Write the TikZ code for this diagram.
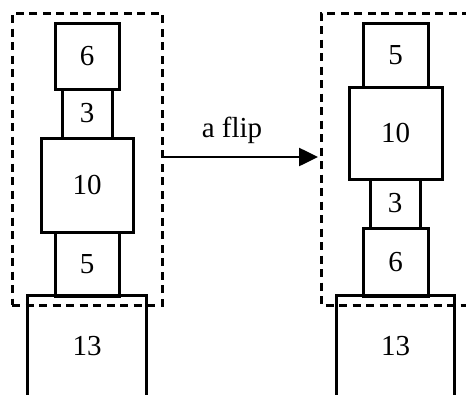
\documentclass[tikz,border=0pt]{standalone}
\usepackage{fontspec}
\setmainfont{Liberation Serif}
\usetikzlibrary{arrows.meta}
\begin{document}
\begin{tikzpicture}[x=1pt,y=-1pt,
  blk/.style={draw, line width=3pt, rectangle, inner sep=0pt, font=\fontsize{29}{33}\selectfont},
  frame/.style={draw, line width=3pt, dash pattern=on 8pt off 5.5pt},
  lbl/.style={font=\fontsize{29}{33}\selectfont, inner sep=0pt}]
\useasboundingbox (0,0) rectangle (466,394);
% left frame
\node[frame, rectangle, inner sep=0pt, minimum width=150pt, minimum height=292pt] (ld) at (87,159) {};
% right frame (open on the right)
\coordinate (rtr) at (470,13);
\coordinate (rtl) at (321,13);
\coordinate (rbl) at (321,305);
\coordinate (rbr) at (470,305);
\draw[frame] (rtr) -- (rtl) -- (rbl) -- (rbr);
\coordinate (rin) at (318,157);
% left stack
\node[blk, minimum width=64pt, minimum height=66pt] (l6) at (87,56) {6};
\node[blk, minimum width=50pt, minimum height=49pt] (l3) at (87,113.5) {3};
\node[blk, minimum width=92pt, minimum height=94pt] (l10) at (87,185) {10};
\node[blk, minimum width=64pt, minimum height=64pt] (l5) at (87,264) {5};
\node[lbl, minimum width=118pt, minimum height=100pt] (l13) at (87,346) {13};
\draw[line width=3pt] (l13.south west) -- (l13.north west) -- (l13.north east) -- (l13.south east);
% right stack
\node[blk, minimum width=65pt, minimum height=64pt] (r5) at (395.5,55) {5};
\node[blk, minimum width=93pt, minimum height=92pt] (r10) at (395.5,133) {10};
\node[blk, minimum width=50pt, minimum height=49pt] (r3) at (395,203.5) {3};
\node[blk, minimum width=65pt, minimum height=68pt] (r6) at (395.5,262) {6};
\node[lbl, minimum width=117pt, minimum height=100pt] (r13) at (395.5,346) {13};
\draw[line width=3pt] (r13.south west) -- (r13.north west) -- (r13.north east) -- (r13.south east);
% arrow
\coordinate (lout) at (163,157);
\draw[line width=2.6pt, -{Triangle[length=19pt,width=18pt]}] (lout) -- (rin);
\node[lbl] (flip) at (232,130) {a flip};
\end{tikzpicture}
\end{document}
